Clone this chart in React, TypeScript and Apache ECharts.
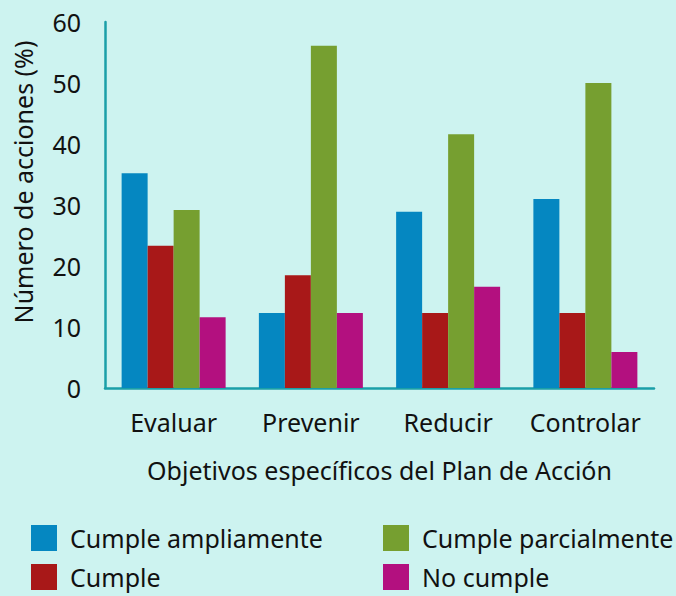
import React, { useEffect, useRef } from "react";
import * as echarts from "echarts";

const categories = ["Evaluar", "Prevenir", "Reducir", "Controlar"];
const seriesNames = ["Cumple ampliamente", "Cumple", "Cumple parcialmente", "No cumple"];
const cumpleAmpliamente = [35.2, 12.3, 28.9, 31.0];
const cumple = [23.3, 18.5, 12.3, 12.3];
const cumpleParcialmente = [29.2, 56.1, 41.6, 50.0];
const noCumple = [11.6, 12.3, 16.6, 5.9];
const colors = ["#0587c1", "#a81818", "#769f30", "#b3107f"];
const yAxisTitle = "Número de acciones (%)";
const xAxisTitle = "Objetivos específicos del Plan de Acción";

const FONT = "Noto Sans";

export default function App() {
  const ref = useRef<HTMLDivElement>(null);
  useEffect(() => {
    document.body.style.margin = "0";
    const chart = echarts.init(ref.current!, null, { renderer: "svg" });
    const values = [cumpleAmpliamente, cumple, cumpleParcialmente, noCumple];
    const textStyle = { fontFamily: FONT, fontSize: 25, color: "#111111" };
    const legendBase = {
      top: 520,
      height: 76,
      orient: "vertical",
      itemWidth: 26,
      itemHeight: 26,
      itemGap: 13,
      icon: "rect",
      textStyle: { ...textStyle, lineHeight: 26, padding: [0, 0, 0, 8] },
    };
    chart.setOption({
      animation: false,
      backgroundColor: "#cdf3f0",
      textStyle,
      grid: { left: 105, right: 22, top: 22, bottom: 208 },
      legend: [
        { ...legendBase, left: 26, data: [seriesNames[0], seriesNames[1]] },
        { ...legendBase, left: 378, data: [seriesNames[2], seriesNames[3]] },
      ],
      graphic: [
        {
          type: "text",
          x: 23,
          y: 182,
          rotation: Math.PI / 2,
          style: {
            text: yAxisTitle,
            fontFamily: FONT,
            fontSize: 25,
            fill: "#111111",
            align: "center",
            verticalAlign: "middle",
          },
        },
      ],
      xAxis: {
        type: "category",
        data: categories,
        axisLine: { lineStyle: { color: "#1a9fa8", width: 2.5 } },
        axisTick: { show: false },
        axisLabel: { ...textStyle, margin: 21, interval: 0 },
        name: xAxisTitle,
        nameLocation: "middle",
        nameGap: 69,
        nameTextStyle: textStyle,
      },
      yAxis: {
        type: "value",
        min: 0,
        max: 60,
        interval: 10,
        axisLine: { show: true, lineStyle: { color: "#1a9fa8", width: 2.5 } },
        axisTick: { show: false },
        splitLine: { show: false },
        axisLabel: { ...textStyle, margin: 24 },
      },
      series: seriesNames.map((name, i) => ({
        name,
        type: "bar",
        data: values[i],
        itemStyle: { color: colors[i] },
        barWidth: 26,
        barGap: "0%",
        barCategoryGap: "24%",
      })),
    });
    return () => chart.dispose();
  }, []);
  return <div ref={ref} style={{ width: 676, height: 596 }} />;
}
